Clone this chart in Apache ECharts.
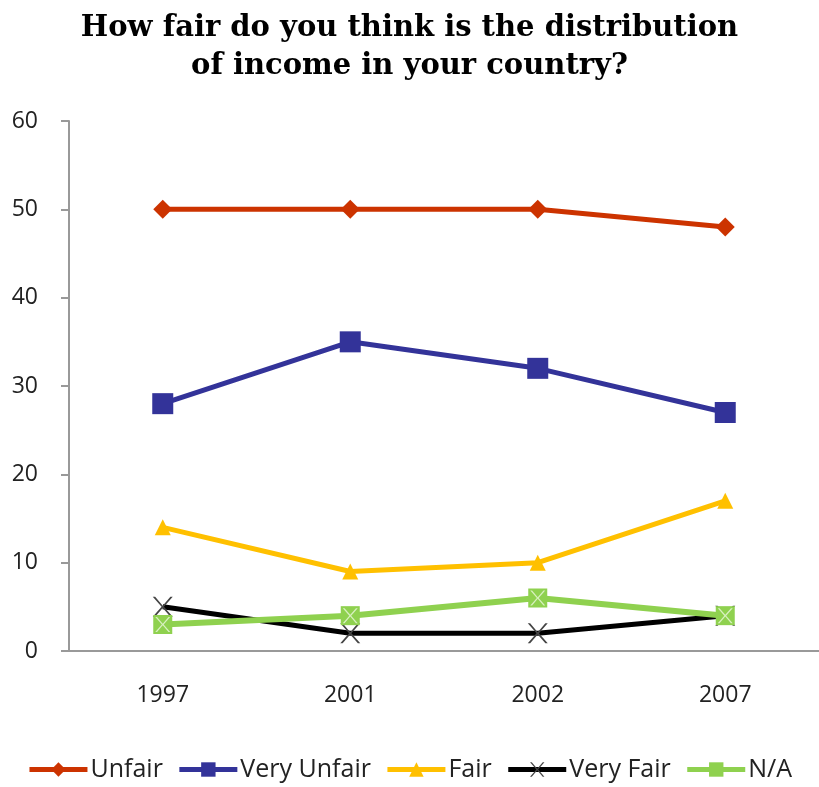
<!DOCTYPE html>
<html>
<head>
<meta charset="utf-8">
<script src="https://cdn.jsdelivr.net/npm/echarts@6/dist/echarts.min.js"></script>
<style>
  html, body { margin: 0; padding: 0; background: #fff; }
  #chart { width: 819px; height: 787px; }
</style>
</head>
<body>
<div id="chart"></div>
<script>
const years = ['1997', '2001', '2002', '2007']
const unfair = [50, 50, 50, 48]
const veryUnfair = [28, 35, 32, 27]
const fair = [14, 9, 10, 17]
const veryFair = [5, 2, 2, 4]
const notAnswered = [3, 4, 6, 4]

const xPath = 'path://M0,0 L1.2,0 L5,4.1 L8.8,0 L10,0 L5.6,4.6 L10,9.2 L8.8,9.2 L5,5.1 L1.2,9.2 L0,9.2 L4.4,4.6 Z'

const chart = echarts.init(document.getElementById('chart'))

const option = {
    title: {
        text: 'How fair do you think is the distribution\nof income in your country?',
        left: 'center',
        top: 4,
        textStyle: {
            fontFamily: 'DejaVu Serif',
            fontWeight: 'bold',
            fontSize: 29,
            lineHeight: 38,
            color: '#000',
        },
    },
    grid: {
        left: 69,
        right: -3,
        top: 121,
        bottom: 136,
    },
    legend: {
        bottom: 0,
        left: 'center',
        itemWidth: 58,
        itemHeight: 18,
        itemGap: 14,
        data: ['Unfair', 'Very Unfair', 'Fair', 'Very Fair', 'N/A'],
        lineStyle: { width: 5 },
        textStyle: {
            fontFamily: 'Open Sans',
            fontSize: 25,
            color: '#222',
            padding: [0, 0, 0, -2],
        },
    },
    xAxis: {
        type: 'category',
        data: years,
        axisLine: { lineStyle: { color: '#999', width: 2 } },
        axisTick: { show: false },
        axisLabel: {
            margin: 33,
            fontFamily: 'Open Sans',
            fontSize: 23,
            color: '#222',
        },
    },
    yAxis: {
        type: 'value',
        min: 0,
        max: 60,
        interval: 10,
        splitLine: { show: false },
        axisLine: { show: true, lineStyle: { color: '#999', width: 2 } },
        axisTick: { show: true, length: 8, lineStyle: { color: '#999', width: 2 } },
        axisLabel: {
            margin: 31,
            fontFamily: 'Open Sans',
            fontSize: 23,
            color: '#222',
        },
    },
    series: [
        {
            name: 'Unfair',
            type: 'line',
            data: unfair,
            symbol: 'diamond',
            symbolSize: 19,
            lineStyle: { width: 5, color: '#cc3300' },
            itemStyle: { color: '#cc3300' },
        },
        {
            name: 'Very Unfair',
            type: 'line',
            data: veryUnfair,
            symbol: 'rect',
            symbolSize: 21,
            lineStyle: { width: 5, color: '#333399' },
            itemStyle: { color: '#333399' },
        },
        {
            name: 'Fair',
            type: 'line',
            data: fair,
            symbol: 'triangle',
            symbolSize: 16,
            lineStyle: { width: 5, color: '#ffc000' },
            itemStyle: { color: '#ffc000' },
        },
        {
            name: 'Very Fair',
            type: 'line',
            data: veryFair,
            symbol: xPath,
            symbolSize: 20,
            lineStyle: { width: 5, color: '#000' },
            itemStyle: { color: '#444' },
        },
        {
            name: 'N/A',
            type: 'line',
            data: notAnswered,
            symbol: 'rect',
            symbolSize: 19,
            lineStyle: { width: 6, color: '#8fd14f' },
            itemStyle: { color: '#8fd14f' },
        },
        {
            // light cross drawn inside the N/A squares
            name: 'N/A cross',
            type: 'line',
            data: notAnswered,
            symbol: xPath,
            symbolSize: 15,
            lineStyle: { width: 0, opacity: 0 },
            itemStyle: { color: '#d8f0c0' },
            silent: true,
        },
    ],
}

chart.setOption(option)
</script>
</body>
</html>
